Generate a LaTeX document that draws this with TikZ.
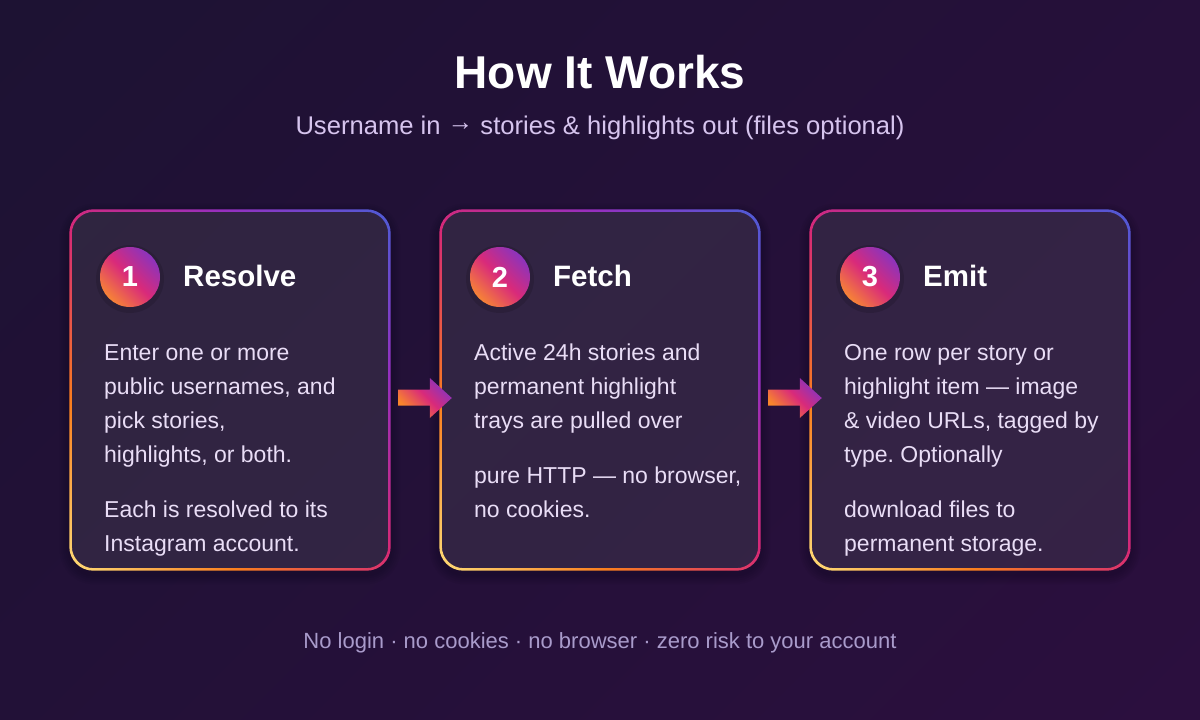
\documentclass[tikz,border=0pt]{standalone}
\usepackage{fontspec}
\setmainfont{Liberation Sans}
\usetikzlibrary{calc}
\frenchspacing
\definecolor{bgA}{HTML}{1D1233}
\definecolor{bgB}{HTML}{2B0F3E}
\definecolor{igyellow}{HTML}{FEDA75}
\definecolor{igorange}{HTML}{FA7E1E}
\definecolor{igpink}{HTML}{D62976}
\definecolor{igpurple}{HTML}{962FBF}
\definecolor{igblue}{HTML}{4F5BD5}
\definecolor{bdorange}{HTML}{FA8E2E}
\definecolor{bdpink}{HTML}{D92A7A}
\definecolor{bdpurple}{HTML}{8235C4}
\definecolor{arorange}{HTML}{F8862C}
\definecolor{bodytxt}{HTML}{E9DDF6}
\definecolor{subtxt}{HTML}{D6C4EE}
\definecolor{foottxt}{HTML}{A99BCB}
\pgfdeclarehorizontalshading{bgshade}{100bp}{color(0bp)=(bgA); color(15bp)=(bgA); color(85bp)=(bgB); color(100bp)=(bgB)}
\pgfdeclarehorizontalshading{igshade}{100bp}{color(0bp)=(igyellow); color(15bp)=(igyellow); color(32bp)=(igorange); color(50bp)=(igpink); color(68bp)=(igpurple); color(85bp)=(igblue); color(100bp)=(igblue)}
\pgfdeclarehorizontalshading{badgeshade}{100bp}{color(0bp)=(bdorange); color(22bp)=(bdorange); color(50bp)=(bdpink); color(78bp)=(bdpurple); color(100bp)=(bdpurple)}
\pgfdeclarehorizontalshading{arrowshade}{100bp}{color(0bp)=(arorange); color(28bp)=(arorange); color(52bp)=(bdpink); color(76bp)=(bdpurple); color(100bp)=(bdpurple)}
\tikzset{
  cardbox/.style={minimum width=320pt, minimum height=360pt, inner sep=0pt, draw=none},
  badge/.style={circle, minimum size=60pt, inner sep=0pt, shading=badgeshade, shading angle=45, text=white, font=\bfseries\fontsize{29}{29}\selectfont},
  steptitle/.style={anchor=base west, inner sep=0pt, text=white, font=\bfseries\fontsize{29.5}{29.5}\selectfont},
  stepbody/.style={anchor=base west, inner sep=0pt, text=bodytxt},
  flowarrow/.style={shading=arrowshade, shading angle=45}
}
\newcommand{\bodytext}[1]{\parbox[t]{310pt}{\fontsize{23}{34}\selectfont #1}}
\begin{document}
\begin{tikzpicture}[x=1pt,y=-1pt]
\useasboundingbox (0,0) rectangle (1200,720);
\shade[shading=bgshade, shading angle=-45] (0,0) rectangle (1200,720);

\node[anchor=base, inner sep=0pt, text=white, font=\bfseries\fontsize{46}{46}\selectfont] (title) at (600,88) {How It Works};
\node[anchor=base, inner sep=0pt, text=subtxt, font=\fontsize{25.6}{25.6}\selectfont] (subtitle) at (600,134) {Username in \raisebox{3.5pt}{→} stories \& highlights out (files optional)};

\foreach \i/\cx/\name in {1/230/Resolve, 2/600/Fetch, 3/970/Emit}{
  \node[cardbox] (card\i) at (\cx,390) {};
  \foreach \k in {1,...,5}{
    \fill[black, opacity=0.035, rounded corners={24pt+\k*2pt}]
      ([shift={(-\k*2,-\k*2+4)}]card\i.north west) rectangle ([shift={(\k*2,\k*2+4)}]card\i.south east);
  }
  \fill[white, opacity=0.1, rounded corners=23pt] (card\i.north west) rectangle (card\i.south east);
  \shade[shading=igshade, shading angle=45, even odd rule, rounded corners=24pt]
    ([shift={(-0.5,-0.5)}]card\i.north west) rectangle ([shift={(0.5,0.5)}]card\i.south east)
    [rounded corners=22pt] ([shift={(2,2)}]card\i.north west) rectangle ([shift={(-2,-2)}]card\i.south east);
  \fill[black, opacity=0.12] (\cx-100,279) circle (34pt);
  \node[badge] (badge\i) at (\cx-100,277) {\i};
  \node[steptitle] (title\i) at (\cx-47,286) {\name};
}

\node[stepbody] (body1a) at (104,360) {\bodytext{Enter one or more\\ public usernames, and\\ pick stories,\\ highlights, or both.}};
\node[stepbody] (body1b) at (104,517) {\bodytext{Each is resolved to its\\ Instagram account.}};
\node[stepbody] (body2a) at (474,360) {\bodytext{Active 24h stories and\\ permanent highlight\\ trays are pulled over}};
\node[stepbody] (body2b) at (474,483) {\bodytext{pure HTTP — no browser,\\ no cookies.}};
\node[stepbody] (body3a) at (844,360) {\bodytext{One row per story or\\ highlight item — image\\ \& video URLs, tagged by\\ type. Optionally}};
\node[stepbody] (body3b) at (844,517) {\bodytext{download files to\\ permanent storage.}};

\foreach \a/\b in {1/2, 2/3}{
  \coordinate (s\a) at ([shift={(8,7.5)}]card\a.east);
  \coordinate (e\a) at ([shift={(12,8)}]card\b.west);
  \shade[flowarrow] ($(s\a)+(0,-8)$) -- ($(e\a)+(-22,-8.5)$) -- ($(e\a)+(-22,-20)$) -- (e\a)
     -- ($(e\a)+(-22,20)$) -- ($(e\a)+(-22,7.5)$) -- ($(s\a)+(0,8)$) -- cycle;
}

\node[anchor=base, inner sep=0pt, text=foottxt, font=\fontsize{22}{22}\selectfont] (footer) at (600,648) {No login · no cookies · no browser · zero risk to your account};
\end{tikzpicture}
\end{document}
